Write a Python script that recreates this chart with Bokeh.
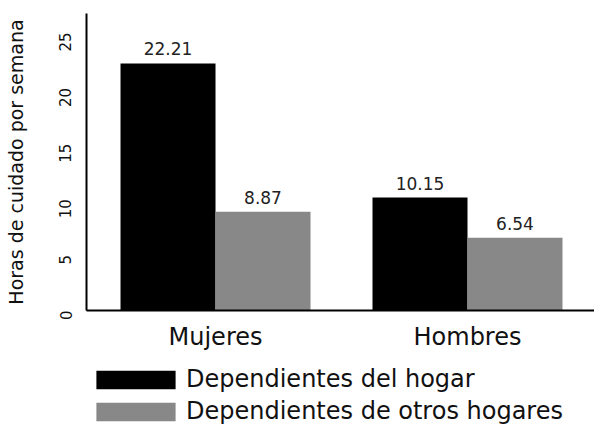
import math
from bokeh.plotting import figure
from bokeh.layouts import column
from bokeh.models import Range1d, FixedTicker, Legend, LegendItem, ColumnDataSource
from bokeh.core.properties import value
from bokeh.embed import file_html
from bokeh.resources import INLINE

categories = ["Mujeres", "Hombres"]
series = ["Dependientes del hogar", "Dependientes de otros hogares"]
hogar = [22.21, 10.15]
otros = [8.87, 6.54]
colors = ["#000000", "#888888"]
y_ticks = [0, 5, 10, 15, 20, 25]

FONT = "DejaVu Sans"

p = figure(width=594, height=362, output_backend="svg", toolbar_location=None,
           x_range=Range1d(-0.012, 2.004), y_range=Range1d(0, 26.7),
           min_border_left=86, min_border_right=0, min_border_top=13, min_border_bottom=52)
p.outline_line_color = None
p.xgrid.visible = False
p.ygrid.visible = False

centers = [i + 0.5 for i in range(len(categories))]
w = 0.377
renderers = []
for k, (vals, col) in enumerate(zip([hogar, otros], colors)):
    off = (k - 0.5) * w
    xs = [c + off for c in centers]
    src = ColumnDataSource(dict(x=xs, top=vals, lab=[f"{v:.2f}" for v in vals]))
    r = p.vbar(x="x", top="top", width=w, bottom=0, source=src, fill_color=col, line_color=None)
    renderers.append(r)
    p.text(x="x", y="top", text="lab", source=src, text_align="center", text_baseline="bottom",
           y_offset=-8, text_font=value(FONT), text_font_size="17px", text_color="#222222")

# x axis
p.xaxis.ticker = FixedTicker(ticks=centers)
p.xaxis.major_label_overrides = {c: n for c, n in zip(centers, categories)}
p.xaxis.major_tick_line_color = None
p.xaxis.minor_tick_line_color = None
p.xaxis.axis_line_width = 2
p.xaxis.axis_line_color = "black"
p.xaxis.major_label_text_font = FONT
p.xaxis.major_label_text_font_size = "24px"
p.xaxis.major_label_text_color = "#111111"
p.xaxis.major_label_standoff = 6

# y axis
p.yaxis.ticker = FixedTicker(ticks=y_ticks)
p.yaxis.major_tick_line_color = None
p.yaxis.minor_tick_line_color = None
p.yaxis.axis_line_width = 2
p.yaxis.axis_line_color = "black"
p.yaxis.major_label_orientation = math.pi / 2
p.yaxis.major_label_text_font = FONT
p.yaxis.major_label_text_font_size = "15px"
p.yaxis.major_label_text_color = "#111111"
p.yaxis.major_label_standoff = 15
p.yaxis.axis_label = "Horas de cuidado por semana"
p.yaxis.axis_label_text_font = FONT
p.yaxis.axis_label_text_font_size = "19px"
p.yaxis.axis_label_text_font_style = "normal"
p.yaxis.axis_label_text_color = "#111111"
p.yaxis.axis_label_standoff = 24

# legend figure
lf = figure(width=594, height=63, output_backend="svg", toolbar_location=None,
            x_range=Range1d(0, 1), y_range=Range1d(0, 1),
            x_axis_location=None, y_axis_location=None,
            min_border_left=75, min_border_right=0, min_border_top=3, min_border_bottom=0)
lf.grid.visible = False
lf.outline_line_color = None
lrs = [lf.vbar(x=[0], top=[0], bottom=[0], width=0.0, fill_color=c, line_color=None) for c in colors]
legend = Legend(items=[LegendItem(label=s, renderers=[r]) for s, r in zip(series, lrs)],
                location="top_left", orientation="vertical",
                glyph_width=99, glyph_height=23, label_text_font=FONT,
                label_text_font_size="24px", label_text_color="#111111",
                label_standoff=1, spacing=4, padding=0, margin=0,
                border_line_color=None, background_fill_alpha=0)
lf.add_layout(legend, "center")

layout = column(p, lf, spacing=0)
open("out.html", "w").write(file_html(layout, INLINE))
